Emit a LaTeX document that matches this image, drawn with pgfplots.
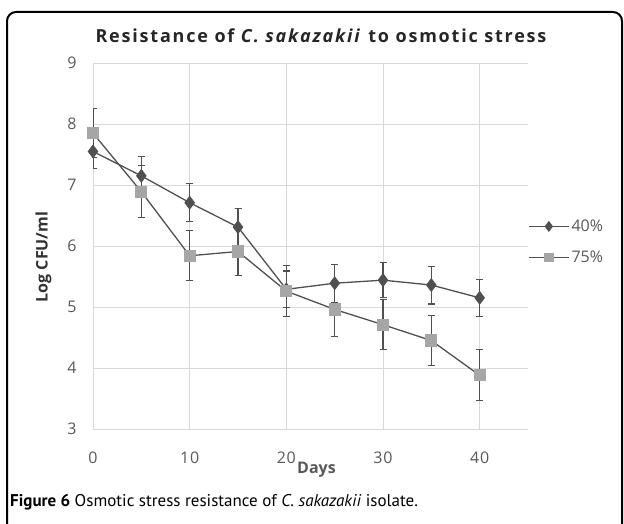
\documentclass[border=0pt]{standalone}
\usepackage{fontspec}
\setmainfont{Open Sans}
\newfontfamily\capfont{PT Sans}
\usepackage{pgfplots}
\pgfplotsset{compat=1.18}
\definecolor{dk}{HTML}{505050}
\definecolor{lt}{HTML}{A6A6A6}
\definecolor{gridc}{HTML}{D9D9D9}
\definecolor{txt}{HTML}{595959}
\begin{document}
\begin{tikzpicture}
\useasboundingbox (0pt,0pt) rectangle (624pt,523pt);
\draw[line width=2pt, rounded corners=9pt] (7pt,-30pt) rectangle (622pt,511pt);
\node[font=\fontsize{18}{22}\selectfont\bfseries\addfontfeature{LetterSpace=10}, text=black!85, anchor=base] at (321pt,480pt) {Resistance of \textit{C. sakazakii} to osmotic stress};
\node[anchor=base west, font=\capfont\fontsize{17}{20}\selectfont, inner sep=0] at (10pt,17pt) {\textbf{Figure 6} Osmotic stress resistance of \textit{C. sakazakii} isolate.};
\begin{axis}[
  at={(93pt,94pt)}, anchor=south west,
  scale only axis, width=435pt, height=366pt,
  xmin=0, xmax=45, ymin=3, ymax=9,
  xtick={0,10,20,30,40}, ytick={3,4,5,6,7,8,9},
  grid=major, major grid style={gridc, line width=0.9pt},
  axis line style={draw=none}, tick style={draw=none},
  /pgf/number format/assume math mode=true,
  tick label style={font=\fontsize{16}{19}\selectfont\addfontfeature{LetterSpace=5}, text=txt},
  xticklabel style={yshift=-19pt},
  yticklabel style={xshift=-13pt},
  xlabel={\textbf{Days}}, xlabel style={font=\fontsize{16}{19}\selectfont, text=txt, yshift=8pt, xshift=6pt},
  ylabel={\textbf{Log CFU/ml}}, ylabel style={font=\fontsize{16}{19}\selectfont, text=black!80, yshift=9pt, xshift=-11pt},
  legend style={at={(1.0,0.511)}, anchor=west, draw=none, fill=none, font=\fontsize{16}{19}\selectfont, text=txt, row sep=14pt, inner xsep=0pt},
  legend cell align=left,
  legend image code/.code={\draw[mark repeat=2,mark phase=2,#1, every mark/.append style={scale=0.75}] plot coordinates {(-3pt,0pt) (17pt,0pt) (37pt,0pt)};},
]
\addplot[dk, line width=1.3pt, mark=diamond*, mark size=6pt, mark options={fill=dk, draw=dk},
  error bars/.cd, y dir=both, y explicit, error bar style={dk, line width=1.1pt}, error mark options={rotate=90, mark size=3.5pt, dk, line width=1.1pt}]
  coordinates {
  (0,7.55) +- (0,0.28)
  (5,7.15) +- (0,0.32)
  (10,6.71) +- (0,0.31)
  (15,6.31) +- (0,0.30)
  (20,5.29) +- (0,0.30)
  (25,5.39) +- (0,0.31)
  (30,5.44) +- (0,0.29)
  (35,5.36) +- (0,0.31)
  (40,5.15) +- (0,0.30)
  };
\addlegendentry{40\%}
\addplot[dk, line width=1.3pt, mark=square*, mark size=5.5pt, mark options={fill=lt, draw=lt},
  error bars/.cd, y dir=both, y explicit, error bar style={dk, line width=1.1pt}, error mark options={rotate=90, mark size=3.5pt, dk, line width=1.1pt}]
  coordinates {
  (0,7.85) +- (0,0.40)
  (5,6.89) +- (0,0.43)
  (10,5.84) +- (0,0.41)
  (15,5.91) +- (0,0.39)
  (20,5.26) +- (0,0.42)
  (25,4.96) +- (0,0.44)
  (30,4.71) +- (0,0.41)
  (35,4.45) +- (0,0.41)
  (40,3.88) +- (0,0.42)
  };
\addlegendentry{75\%}
\end{axis}
\end{tikzpicture}
\end{document}
